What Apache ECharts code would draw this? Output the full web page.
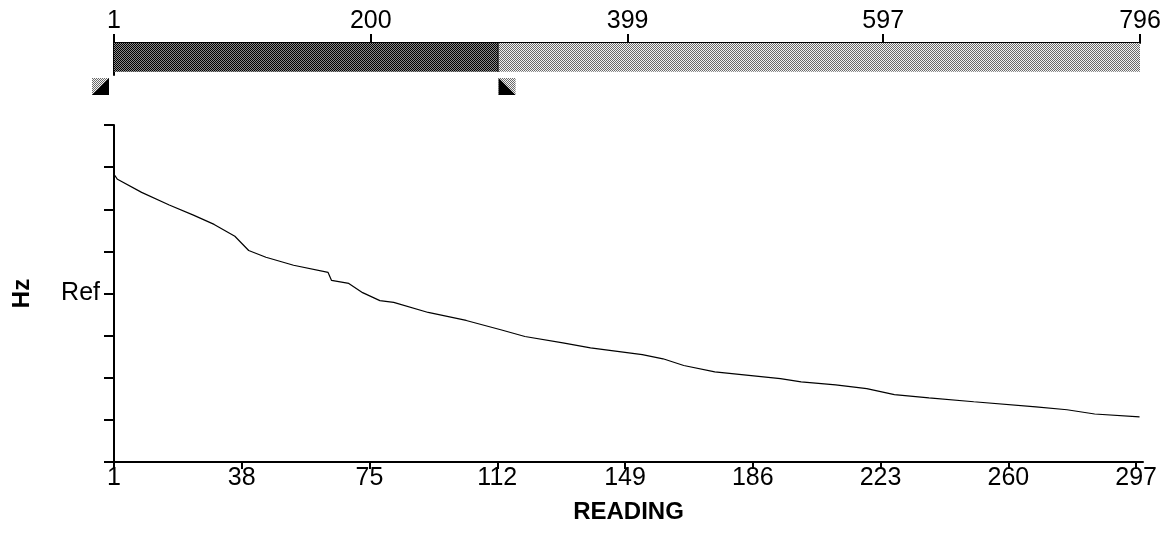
<!DOCTYPE html>
<html>
<head>
<meta charset="utf-8">
<script src="https://cdn.jsdelivr.net/npm/echarts@6.0.0/dist/echarts.min.js"></script>
<style>
    html, body { margin: 0; padding: 0; background: #fff; }
    #chart { width: 1172px; height: 540px; }
</style>
</head>
<body>
<div id="chart"></div>
<script>
// readings shown in the lower plot and their frequency (in tick units, Ref = 4)
let readings = [1, 2, 9, 17, 24, 30, 36, 40, 45, 53, 63, 64, 69, 73, 78, 82, 92, 103, 113, 120,
                131, 139, 154, 160, 166, 175, 194, 200, 210, 219, 227, 237, 250, 268, 277, 285, 298];
let hzValues = [6.83, 6.71, 6.40, 6.10, 5.86, 5.64, 5.36, 5.02, 4.86, 4.67, 4.50, 4.31, 4.24, 4.02, 3.83, 3.79, 3.55, 3.36, 3.14, 2.98,
                2.83, 2.71, 2.55, 2.45, 2.29, 2.14, 1.98, 1.90, 1.83, 1.74, 1.60, 1.52, 1.43, 1.31, 1.24, 1.14, 1.07];

let readingTicks = [1, 38, 75, 112, 149, 186, 223, 260, 297];
let refValue = 4;

// overview bar on top
let overviewTicks = [1, 200, 399, 597, 796];
let segStart = [1, 299];
let segEnd = [299, 796];
let segShade = ['dark', 'light'];
let markerAt = [1, 299];
let markerSide = ['left', 'right'];

let font = 'Liberation Sans, Arial, sans-serif';

// small halftone-like fills
function makePattern(a, b) {
    let c = document.createElement('canvas');
    c.width = 2;
    c.height = 2;
    let ctx = c.getContext('2d');
    ctx.fillStyle = b;
    ctx.fillRect(0, 0, 2, 2);
    ctx.fillStyle = a;
    ctx.fillRect(0, 0, 1, 1);
    ctx.fillRect(1, 1, 1, 1);
    return { image: c, repeat: 'repeat' };
}
let darkFill = makePattern('#000', '#8a8a8a');
let lightFill = makePattern('#6a6a6a', '#f4f4f4');

let lineData = [];
for (let i = 0; i < readings.length; i++) {
    lineData.push([readings[i], hzValues[i]]);
}
let segData = [];
for (let i = 0; i < segStart.length; i++) {
    segData.push([segStart[i], segEnd[i], segShade[i]]);
}
let markerData = [];
for (let i = 0; i < markerAt.length; i++) {
    markerData.push([markerAt[i], markerSide[i]]);
}

let myChart = echarts.init(document.getElementById('chart'));

let option = {
    animation: false,
    backgroundColor: '#fff',
    textStyle: { fontFamily: font },
    grid: [
        { left: 114, top: 125, width: 1029, height: 337, containLabel: false, outerBoundsMode: 'none' },
        { left: 114, top: 43, width: 1026, height: 32, containLabel: false, outerBoundsMode: 'none' }
    ],
    xAxis: [
        {
            gridIndex: 0,
            type: 'value',
            min: 1,
            max: 299,
            name: 'READING',
            nameLocation: 'middle',
            nameGap: 38,
            nameTextStyle: { color: '#000', fontSize: 24, fontWeight: 'bold', fontFamily: font },
            axisLine: { show: true, onZero: false, lineStyle: { color: '#000', width: 2 } },
            axisTick: { show: true, length: 7, customValues: readingTicks, lineStyle: { color: '#000', width: 2 } },
            axisLabel: { customValues: readingTicks, color: '#000', fontSize: 25, margin: 4, fontFamily: font },
            splitLine: { show: false }
        },
        {
            gridIndex: 1,
            type: 'value',
            min: 1,
            max: 796,
            position: 'top',
            axisLine: { show: true, onZero: false, lineStyle: { color: '#000', width: 2 } },
            axisTick: { show: true, length: 9, customValues: overviewTicks, lineStyle: { color: '#000', width: 2 } },
            axisLabel: { customValues: overviewTicks, color: '#000', fontSize: 25, margin: 9, fontFamily: font },
            splitLine: { show: false }
        }
    ],
    yAxis: [
        {
            gridIndex: 0,
            type: 'value',
            min: 0,
            max: 8,
            interval: 1,
            name: 'Hz',
            nameLocation: 'middle',
            nameRotate: 90,
            nameGap: 80,
            nameTextStyle: { color: '#000', fontSize: 24, fontWeight: 'bold', fontFamily: font },
            axisLine: { show: true, onZero: false, lineStyle: { color: '#000', width: 2 } },
            axisTick: { show: true, length: 10, lineStyle: { color: '#000', width: 2 } },
            axisLabel: {
                color: '#000',
                fontSize: 25,
                margin: 14,
                fontFamily: font,
                formatter: function (v) { return v === refValue ? 'Ref' : ''; }
            },
            splitLine: { show: false }
        },
        {
            gridIndex: 1,
            type: 'value',
            min: 0,
            max: 1,
            axisLine: { show: true, onZero: false, lineStyle: { color: '#000', width: 2 } },
            axisTick: { show: false },
            axisLabel: { show: false },
            splitLine: { show: false }
        }
    ],
    series: [
        {
            type: 'line',
            xAxisIndex: 0,
            yAxisIndex: 0,
            data: lineData,
            symbol: 'none',
            lineStyle: { color: '#000', width: 1.2 }
        },
        {
            // shaded segments of the overview bar
            type: 'custom',
            xAxisIndex: 1,
            yAxisIndex: 1,
            data: segData,
            renderItem: function (params, api) {
                let a = api.coord([api.value(0), 1]);
                let b = api.coord([api.value(1), 0.1]);
                let shade = segData[params.dataIndex][2];
                let children = [{
                    type: 'rect',
                    shape: { x: a[0], y: a[1], width: b[0] - a[0], height: b[1] - a[1] },
                    style: { fill: shade === 'dark' ? darkFill : lightFill }
                }];
                if (shade === 'dark') {
                    children.push({
                        type: 'line',
                        shape: { x1: b[0], y1: a[1], x2: b[0], y2: b[1] },
                        style: { stroke: '#000', lineWidth: 2 }
                    });
                }
                return { type: 'group', children: children };
            }
        },
        {
            // little triangle markers under the bar
            type: 'custom',
            xAxisIndex: 1,
            yAxisIndex: 1,
            clip: false,
            data: markerData,
            renderItem: function (params, api) {
                let p = api.coord([api.value(0), 0]);
                let side = markerData[params.dataIndex][1];
                let s = 17;
                let y0 = p[1] + 3;
                let x0 = side === 'left' ? p[0] - 22 : p[0];
                let x1 = x0 + s, y1 = y0 + s;
                let tri = side === 'left'
                    ? [[x1, y0], [x1, y1], [x0, y1]]
                    : [[x0, y0], [x0, y1], [x1, y1]];
                return {
                    type: 'group',
                    children: [
                        { type: 'rect', shape: { x: x0, y: y0, width: s, height: s }, style: { fill: lightFill } },
                        { type: 'polygon', shape: { points: tri }, style: { fill: '#000' } }
                    ]
                };
            }
        }
    ]
};

myChart.setOption(option);
</script>
</body>
</html>
